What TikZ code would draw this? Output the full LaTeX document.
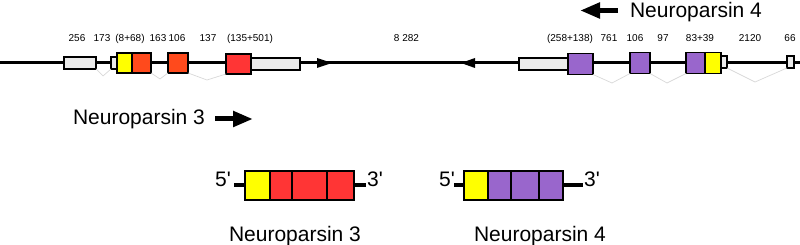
\documentclass[tikz,border=0pt]{standalone}
\usepackage{fontspec}
\setmainfont{Liberation Sans}
\newfontfamily\nomapfont{Liberation Sans}
\usetikzlibrary{arrows.meta}
\definecolor{utr}{HTML}{EBEBEB}
\definecolor{ye}{HTML}{FFFF00}
\definecolor{orr}{HTML}{FF4A1C}
\definecolor{rd}{HTML}{FF3535}
\definecolor{pu}{HTML}{9966CC}
\definecolor{spl}{HTML}{D8D8D8}
\begin{document}
\begin{tikzpicture}[x=1pt,y=-1pt,
  exon/.style={draw=black, line width=1.5pt, inner sep=0pt, outer sep=0pt, anchor=west},
  cds/.style={exon, minimum height=20pt},
  utrbox/.style={exon, fill=utr, minimum height=12pt},
  mbox/.style={draw=black, line width=2pt, inner sep=0pt, outer sep=0pt, anchor=west, minimum height=29pt},
  lbl/.style={font=\fontsize{10}{12}\selectfont, anchor=base, inner sep=0pt},
  big/.style={font=\fontsize{21}{25}\selectfont, anchor=base, inner sep=0pt},
  endlbl/.style={font=\nomapfont\fontsize{21}{25}\selectfont, anchor=base, inner sep=0pt},
  gene/.style={line width=3pt},
  stub/.style={line width=4pt},
  splice/.style={spl, line width=0.7pt},
  bigarrow/.style={line width=5pt, -{Triangle[length=20pt,width=15pt]}}]
\useasboundingbox (0,0) rectangle (800,245);

% main genomic line
\coordinate (L) at (0,63);
\coordinate (R) at (800,63);
\draw[gene] (L) -- (R);
\fill (317,58) -- (332,63) -- (317,68) -- cycle;
\fill (475,58) -- (461,63) -- (475,68) -- cycle;

% Neuroparsin 3 exons
\node[utrbox, minimum width=32pt] (g1) at (64,63) {};
\node[utrbox, minimum width=6pt] (g2) at (111,63) {};
\node[cds, fill=ye, minimum width=15pt] (y1) at (117,63) {};
\node[cds, fill=orr, minimum width=19pt] (o1) at (132,63) {};
\node[cds, fill=orr, minimum width=20pt] (o2) at (168,63) {};
\node[cds, fill=rd, minimum width=25pt] (r1) at (226,64) {};
\node[utrbox, minimum width=49pt] (g3) at (251,64) {};

% Neuroparsin 4 exons
\node[utrbox, minimum width=49pt] (g4) at (519,64) {};
\node[cds, fill=pu, minimum width=25pt, minimum height=21pt] (p1) at (568,64) {};
\node[cds, fill=pu, minimum width=20pt, minimum height=21pt] (p2) at (630,63) {};
\node[cds, fill=pu, minimum width=19pt, minimum height=21pt] (p3) at (686,63) {};
\node[cds, fill=ye, minimum width=16pt, minimum height=21pt] (y2) at (705,63) {};
\node[utrbox, minimum width=6pt] (g5) at (721,62) {};
\node[utrbox, minimum width=7pt] (g6) at (787,62) {};

% splice lines
\draw[splice] (g1.south east) -- (103,76) -- (g2.south west);
\draw[splice] (o1.south east) -- (160,79) -- (o2.south west);
\draw[splice] (o2.south east) -- (207,80) -- (r1.south west);
\draw[splice] (p1.south east) -- (612,83) -- (p2.south west);
\draw[splice] (p2.south east) -- (667,83) -- (p3.south west);
\draw[splice] (g5.south east) -- (755,82) -- (g6.south west);

% size labels
\node[lbl] (l1) at (77,42) {256};
\node[lbl] (l2) at (102,42) {173};
\node[lbl] (l3) at (130,42) {(8+68)};
\node[lbl] (l4) at (158,42) {163};
\node[lbl] (l5) at (177,42) {106};
\node[lbl] (l6) at (208,42) {137};
\node[lbl] (l7) at (250,42) {(135+501)};
\node[lbl] (l8) at (406.5,42) {8 282};
\node[lbl] (l9) at (570,42) {(258+138)};
\node[lbl] (l10) at (609,42) {761};
\node[lbl] (l11) at (635,42) {106};
\node[lbl] (l12) at (663,42) {97};
\node[lbl] (l13) at (700,42) {83+39};
\node[lbl] (l14) at (750,42) {2120};
\node[lbl] (l15) at (790,42) {66};

% direction labels
\node[big] (np4top) at (696,17.3) {Neuroparsin 4};
\coordinate (a4s) at (618,10.5);
\coordinate (a4e) at (580,10.5);
\draw[bigarrow] (a4s) -- (a4e);
\node[big] (np3left) at (139,125) {Neuroparsin 3};
\coordinate (a3s) at (215,119);
\coordinate (a3e) at (253,119);
\draw[bigarrow] (a3s) -- (a3e);

% mature transcripts: Neuroparsin 3
\node[mbox, fill=ye, minimum width=25pt] (b3y) at (245,185.5) {};
\node[mbox, fill=rd, minimum width=22pt] (b3a) at (270,185.5) {};
\node[mbox, fill=rd, minimum width=35pt] (b3b) at (292,185.5) {};
\node[mbox, fill=rd, minimum width=27pt] (b3c) at (327,185.5) {};
\coordinate (s3l) at (234,185.5);
\coordinate (s3r) at (366,185.5);
\draw[stub] (s3l) -- (b3y.west);
\draw[stub] (b3c.east) -- (s3r);
\node[endlbl] (f3) at (223,187) {5'};
\node[endlbl] (t3) at (375,187) {3'};
\node[big] (np3) at (295,241.7) {Neuroparsin 3};

% mature transcripts: Neuroparsin 4
\node[mbox, fill=ye, minimum width=24pt] (b4y) at (464,185.5) {};
\node[mbox, fill=pu, minimum width=23pt] (b4a) at (488,185.5) {};
\node[mbox, fill=pu, minimum width=28pt] (b4b) at (511,185.5) {};
\node[mbox, fill=pu, minimum width=24pt] (b4c) at (539,185.5) {};
\coordinate (s4l) at (454,185.5);
\coordinate (s4r) at (583,185.5);
\draw[stub] (s4l) -- (b4y.west);
\draw[stub] (b4c.east) -- (s4r);
\node[endlbl] (f4) at (447,187) {5'};
\node[endlbl] (t4) at (592,187) {3'};
\node[big] (np4) at (540,241.7) {Neuroparsin 4};
\end{tikzpicture}
\end{document}
